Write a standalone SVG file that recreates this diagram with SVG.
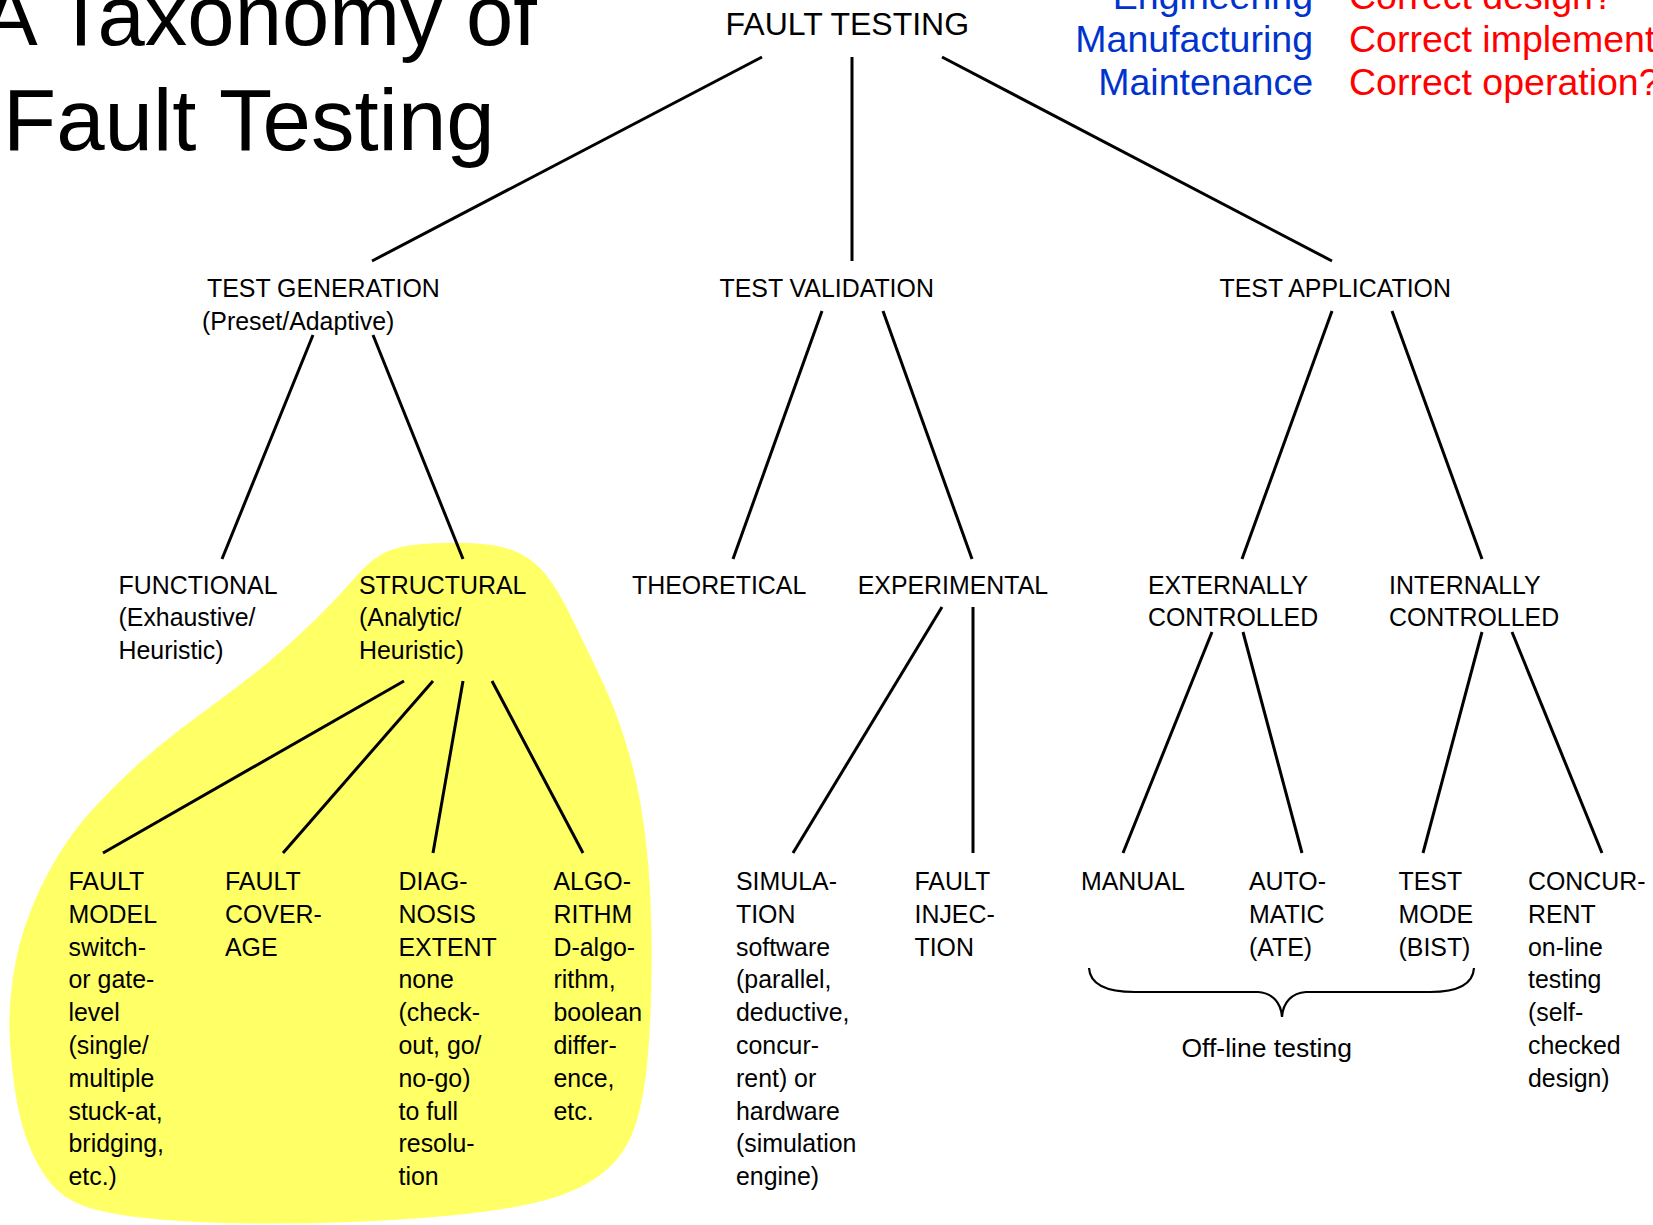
<svg xmlns="http://www.w3.org/2000/svg" width="1653" height="1225" viewBox="0 0 1653 1225">
  <style>
    text { font-family: "Liberation Sans", Arial, sans-serif; fill: #000; }
    .lbl { font-size: 24.9px; }
    .title { font-size: 85px; }
    .root { font-size: 32px; }
    .phase { font-size: 37.5px; fill: #0033cc; }
    .question { font-size: 37.5px; fill: #ff0000; }
    .note { font-size: 26.5px; }
    .edge { stroke: #000; stroke-width: 3; fill: none; }
    .brace { stroke: #000; stroke-width: 2.2; fill: none; }
  </style>

  <rect width="1653" height="1225" fill="#fff"/>

  <!-- highlighted region behind the structural test-generation branch -->
  <path id="structural-highlight" fill="#ffff66" d="M385,552.5 Q400,545 430,543.5 Q460,542 482.5,544 Q505,546 520,553.5 Q535,561 546.5,575.5 Q558,590 571.5,617.5 Q585,645 600,676.5 Q615,708 625,740 Q635,772 640.5,803.5 Q646,835 648.5,867.5 Q651,900 651.5,933 Q652,966 651,1000.5 Q650,1035 647,1065 Q644,1095 637,1120 Q630,1145 615,1161.5 Q600,1178 577.5,1188.5 Q555,1199 522.5,1205.5 Q490,1212 445,1216 Q400,1220 350,1222 Q300,1224 250,1223.5 Q200,1223 160,1219.5 Q120,1216 95,1209.5 Q70,1203 56,1189 Q42,1175 32,1152.5 Q22,1130 17,1102.5 Q12,1075 10,1042.5 Q8,1010 13,977 Q18,944 29,915 Q40,886 56,859 Q72,832 92,810 Q112,788 135,767 Q158,746 184,726.5 Q210,707 235,688.5 Q260,670 282.5,650 Q305,630 322.5,612.5 Q340,595 355,577.5 Q370,560 385,552.5 Z"/>

  <!-- title -->
  <g id="title">
    <text class="title" x="-19" y="45">A Taxonomy of</text>
    <text class="title" x="3" y="150" style="font-size:87px">Fault Testing</text>
  </g>

  <!-- phase / question legend -->
  <g id="legend">
    <text class="phase" text-anchor="end" x="1313" y="9">Engineering</text>
    <text class="phase" text-anchor="end" x="1313" y="52">Manufacturing</text>
    <text class="phase" text-anchor="end" x="1313" y="95">Maintenance</text>
    <text class="question" x="1349" y="9">Correct design?</text>
    <text class="question" x="1349" y="52">Correct implement</text>
    <text class="question" x="1349" y="95">Correct operation?</text>
  </g>

  <!-- tree connectors -->
  <g id="connectors">
    <line class="edge" x1="762" y1="57" x2="372" y2="261"/>
    <line class="edge" x1="852" y1="57" x2="852" y2="261"/>
    <line class="edge" x1="942" y1="57" x2="1332" y2="261"/>

    <line class="edge" x1="313" y1="335" x2="222" y2="559"/>
    <line class="edge" x1="373" y1="335" x2="463" y2="559"/>
    <line class="edge" x1="822" y1="311" x2="733" y2="559"/>
    <line class="edge" x1="883" y1="311" x2="972" y2="559"/>
    <line class="edge" x1="1332" y1="311" x2="1242" y2="559"/>
    <line class="edge" x1="1392" y1="311" x2="1482" y2="559"/>

    <line class="edge" x1="404" y1="681" x2="103" y2="853"/>
    <line class="edge" x1="433" y1="681" x2="283" y2="853"/>
    <line class="edge" x1="463" y1="681" x2="433" y2="853"/>
    <line class="edge" x1="492" y1="681" x2="583" y2="853"/>
    <line class="edge" x1="942" y1="607" x2="793" y2="853"/>
    <line class="edge" x1="973" y1="607" x2="973" y2="853"/>
    <line class="edge" x1="1212" y1="632" x2="1123" y2="853"/>
    <line class="edge" x1="1243" y1="632" x2="1302" y2="853"/>
    <line class="edge" x1="1482" y1="632" x2="1423" y2="853"/>
    <line class="edge" x1="1512" y1="632" x2="1602" y2="853"/>
  </g>

  <!-- root -->
  <g id="fault-testing">
    <text class="root" x="725.5" y="34.5">FAULT TESTING</text>
  </g>

  <!-- second level -->
  <g id="test-generation">
    <text class="lbl" x="207" y="297">TEST GENERATION</text>
    <text class="lbl" x="202" y="330">(Preset/Adaptive)</text>
  </g>
  <g id="test-validation">
    <text class="lbl" x="719.5" y="297">TEST VALIDATION</text>
  </g>
  <g id="test-application">
    <text class="lbl" x="1219.5" y="297">TEST APPLICATION</text>
  </g>

  <!-- third level -->
  <g id="functional">
    <text class="lbl" x="118.5" y="593.6">FUNCTIONAL<tspan x="118.5" dy="32.8">(Exhaustive/</tspan><tspan x="118.5" dy="32.8">Heuristic)</tspan></text>
  </g>
  <g id="structural">
    <text class="lbl" x="359" y="593.6">STRUCTURAL<tspan x="359" dy="32.8">(Analytic/</tspan><tspan x="359" dy="32.8">Heuristic)</tspan></text>
  </g>
  <g id="theoretical">
    <text class="lbl" x="632" y="593.6">THEORETICAL</text>
  </g>
  <g id="experimental">
    <text class="lbl" x="857.7" y="593.6">EXPERIMENTAL</text>
  </g>
  <g id="externally-controlled">
    <text class="lbl" x="1148" y="593.6">EXTERNALLY<tspan x="1148" dy="32.8">CONTROLLED</tspan></text>
  </g>
  <g id="internally-controlled">
    <text class="lbl" x="1389" y="593.6">INTERNALLY<tspan x="1389" dy="32.8">CONTROLLED</tspan></text>
  </g>

  <!-- fourth level -->
  <g id="fault-model">
    <text class="lbl" x="68.5" y="890">FAULT<tspan x="68.5" dy="32.8">MODEL</tspan><tspan x="68.5" dy="32.8">switch-</tspan><tspan x="68.5" dy="32.8">or gate-</tspan><tspan x="68.5" dy="32.8">level</tspan><tspan x="68.5" dy="32.8">(single/</tspan><tspan x="68.5" dy="32.8">multiple</tspan><tspan x="68.5" dy="32.8">stuck-at,</tspan><tspan x="68.5" dy="32.8">bridging,</tspan><tspan x="68.5" dy="32.8">etc.)</tspan></text>
  </g>
  <g id="fault-coverage">
    <text class="lbl" x="225" y="890">FAULT<tspan x="225" dy="32.8">COVER-</tspan><tspan x="225" dy="32.8">AGE</tspan></text>
  </g>
  <g id="diagnosis-extent">
    <text class="lbl" x="398.5" y="890">DIAG-<tspan x="398.5" dy="32.8">NOSIS</tspan><tspan x="398.5" dy="32.8">EXTENT</tspan><tspan x="398.5" dy="32.8">none</tspan><tspan x="398.5" dy="32.8">(check-</tspan><tspan x="398.5" dy="32.8">out, go/</tspan><tspan x="398.5" dy="32.8">no-go)</tspan><tspan x="398.5" dy="32.8">to full</tspan><tspan x="398.5" dy="32.8">resolu-</tspan><tspan x="398.5" dy="32.8">tion</tspan></text>
  </g>
  <g id="algorithm">
    <text class="lbl" x="553.5" y="890">ALGO-<tspan x="553.5" dy="32.8">RITHM</tspan><tspan x="553.5" dy="32.8">D-algo-</tspan><tspan x="553.5" dy="32.8">rithm,</tspan><tspan x="553.5" dy="32.8">boolean</tspan><tspan x="553.5" dy="32.8">differ-</tspan><tspan x="553.5" dy="32.8">ence,</tspan><tspan x="553.5" dy="32.8">etc.</tspan></text>
  </g>
  <g id="simulation">
    <text class="lbl" x="736" y="890">SIMULA-<tspan x="736" dy="32.8">TION</tspan><tspan x="736" dy="32.8">software</tspan><tspan x="736" dy="32.8">(parallel,</tspan><tspan x="736" dy="32.8">deductive,</tspan><tspan x="736" dy="32.8">concur-</tspan><tspan x="736" dy="32.8">rent) or</tspan><tspan x="736" dy="32.8">hardware</tspan><tspan x="736" dy="32.8">(simulation</tspan><tspan x="736" dy="32.8">engine)</tspan></text>
  </g>
  <g id="fault-injection">
    <text class="lbl" x="914.5" y="890">FAULT<tspan x="914.5" dy="32.8">INJEC-</tspan><tspan x="914.5" dy="32.8">TION</tspan></text>
  </g>
  <g id="manual">
    <text class="lbl" x="1081" y="890">MANUAL</text>
  </g>
  <g id="automatic">
    <text class="lbl" x="1249" y="890">AUTO-<tspan x="1249" dy="32.8">MATIC</tspan><tspan x="1249" dy="32.8">(ATE)</tspan></text>
  </g>
  <g id="test-mode">
    <text class="lbl" x="1398.5" y="890">TEST<tspan x="1398.5" dy="32.8">MODE</tspan><tspan x="1398.5" dy="32.8">(BIST)</tspan></text>
  </g>
  <g id="concurrent">
    <text class="lbl" x="1528" y="890">CONCUR-<tspan x="1528" dy="32.8">RENT</tspan><tspan x="1528" dy="32.8">on-line</tspan><tspan x="1528" dy="32.8">testing</tspan><tspan x="1528" dy="32.8">(self-</tspan><tspan x="1528" dy="32.8">checked</tspan><tspan x="1528" dy="32.8">design)</tspan></text>
  </g>

  <!-- brace grouping the off-line methods -->
  <g id="off-line-testing">
    <path class="brace" d="M1089,968 C1090,984 1105,992 1135,992 L1258,992 C1272,993 1281,1002 1282,1017 C1283,1002 1292,993 1306,992 L1430,992 C1458,992 1473,984 1474,968"/>
    <text class="note" x="1181.5" y="1057">Off-line testing</text>
  </g>
</svg>
